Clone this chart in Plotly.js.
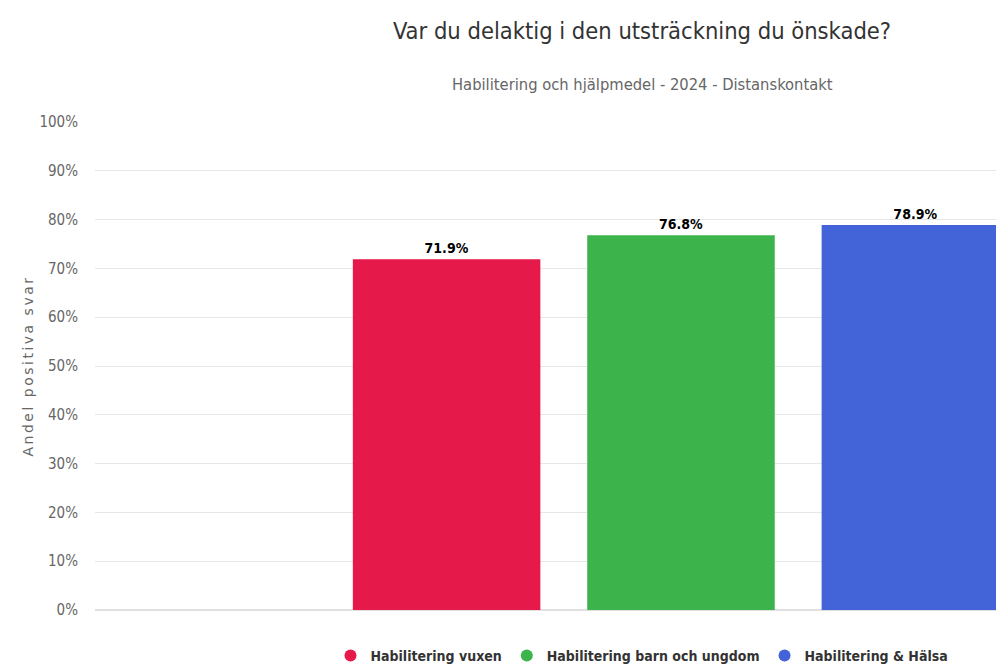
<!DOCTYPE html>
<html>
<head>
<meta charset="utf-8">
<script src="https://cdn.plot.ly/plotly-3.0.1.min.js"></script>
<style>
html,body{margin:0;padding:0;overflow:hidden;background:#fff;width:996px;height:667px;}
#chart{width:1284px;height:667px;}
</style>
</head>
<body>
<div id="chart"></div>
<script>
const seriesNames = ["Habilitering vuxen", "Habilitering barn och ungdom", "Habilitering & Hälsa"];
const seriesValues = [71.9, 76.8, 78.9];
const seriesColors = ["#e6194b", "#3cb44b", "#4363d8"];
const category = [""];
const titleText = "Var du delaktig i den utsträckning du önskade?";
const subtitleText = "Habilitering och hjälpmedel - 2024 - Distanskontakt";
const yTitle = "Andel positiva svar";

const narrow = "'DejaVu Sans Condensed', 'Liberation Sans Narrow', sans-serif";

const traces = [];
seriesNames.forEach((n, i) => {
  traces.push({
    type: "bar",
    x: category,
    y: [seriesValues[i]],
    name: n,
    marker: {color: seriesColors[i]},
    text: [seriesValues[i].toFixed(1) + "%"],
    textposition: "outside",
    textfont: {family: narrow, size: 14, color: "#000", weight: "bold"},
    cliponaxis: false,
    showlegend: false,
    hoverinfo: "none"
  });
});
seriesNames.forEach((n, i) => {
  traces.push({
    type: "scatter",
    mode: "markers",
    x: [null],
    y: [null],
    name: n,
    marker: {color: seriesColors[i], size: 15, symbol: "circle"},
    showlegend: true,
    hoverinfo: "none"
  });
});

const layout = {
  width: 1284,
  height: 667,
  margin: {l: 95, r: 17, t: 122, b: 57},
  paper_bgcolor: "#fff",
  plot_bgcolor: "#fff",
  barmode: "group",
  bargap: 0.40,
  bargroupgap: 0.2,
  title: {
    text: titleText,
    font: {family: narrow, size: 23.5, color: "#333"},
    xref: "container", x: 0.5, xanchor: "center",
    yref: "container", y: 1 - 31/667, yanchor: "middle"
  },
  annotations: [{
    text: subtitleText,
    xref: "paper", yref: "paper",
    x: (642 - 95) / 1172, y: (610 - 84) / 488,
    xanchor: "center", yanchor: "middle",
    showarrow: false,
    font: {family: narrow, size: 16.4, color: "#666"}
  }],
  xaxis: {
    type: "category",
    showticklabels: false,
    showgrid: false,
    zeroline: false,
    showline: false,
    fixedrange: true
  },
  yaxis: {
    range: [0, 100],
    dtick: 10,
    ticksuffix: "%",
    showgrid: true,
    gridcolor: "#e6e6e6",
    gridwidth: 1,
    zeroline: true,
    zerolinecolor: "#e0e0e0",
    zerolinewidth: 2,
    tickfont: {family: narrow, size: 15, color: "#666"},
    ticklabelstandoff: 16,
    title: {
      text: yTitle,
      font: {family: "'DejaVu Sans', sans-serif", size: 14, color: "#666"},
      standoff: 2
    },
    fixedrange: true
  },
  legend: {
    orientation: "h",
    xref: "container", x: 0.5, xanchor: "center",
    yref: "container", y: 1 - 656/667, yanchor: "middle",
    font: {family: narrow, size: 14, color: "#333", weight: "bold"},
    itemsizing: "constant",
    traceorder: "normal"
  },
  showlegend: true
};

Plotly.newPlot("chart", traces, layout, {displayModeBar: false, staticPlot: true}).then(() => {
  const t = document.querySelector(".ytitle");
  if (t) t.style.letterSpacing = "2.5px";
});
</script>
</body>
</html>
